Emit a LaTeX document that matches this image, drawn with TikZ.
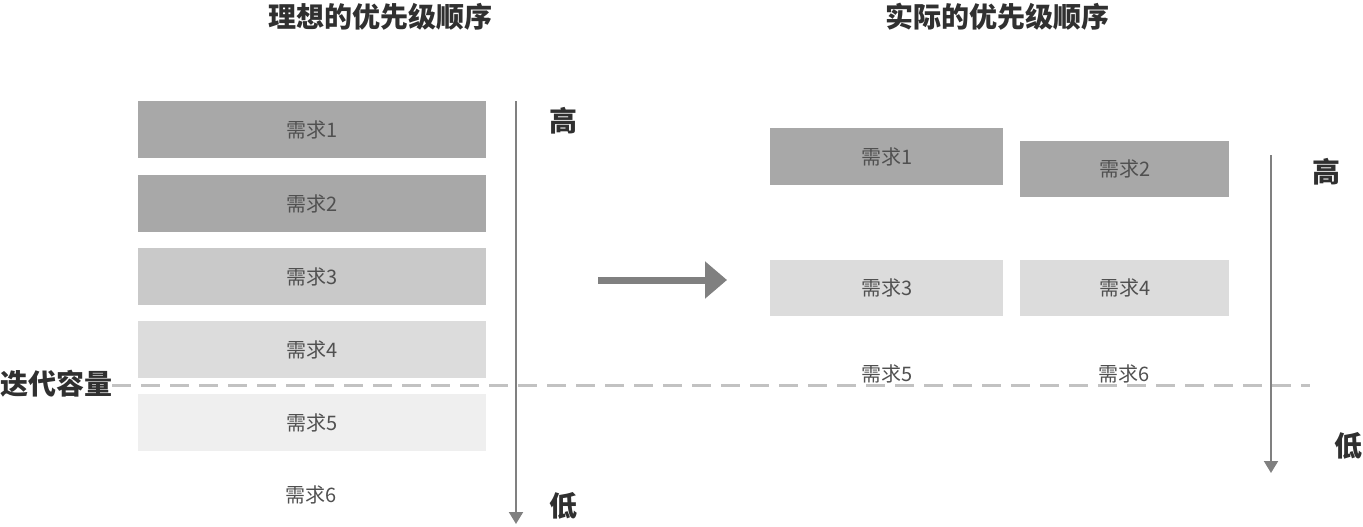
\documentclass[tikz,border=0pt]{standalone}
\usepackage{fontspec}
\setmainfont{Noto Sans CJK SC}
\usetikzlibrary{arrows.meta}
\definecolor{boxA}{HTML}{A8A8A8}
\definecolor{boxB}{HTML}{C9C9C9}
\definecolor{boxC}{HTML}{DCDCDC}
\definecolor{boxD}{HTML}{EFEFEF}
\definecolor{txt}{HTML}{505050}
\definecolor{dark}{HTML}{303030}
\definecolor{axis}{HTML}{808080}
\definecolor{dashc}{HTML}{C2C2C2}
\tikzset{
  req/.style={minimum height=57pt, inner sep=0pt, text=txt, font=\fontsize{20}{22}\selectfont, anchor=north west},
  reqtext/.style={text=txt, font=\fontsize{20}{22}\selectfont, inner sep=0pt},
  title/.style={text=dark, font=\fontsize{28}{30}\selectfont\bfseries, inner sep=0pt},
  lvl/.style={text=dark, font=\fontsize{28}{30}\selectfont\bfseries, inner sep=0pt},
  axisline/.style={draw=axis, line width=2pt, -{Triangle[length=12pt,width=14pt]}},
}
\begin{document}
\begin{tikzpicture}[x=1pt,y=-1pt]
\useasboundingbox (0,0) rectangle (1363,527);
% titles
\node[title] (t1) at (380,17) {理想的优先级顺序};
\node[title] (t2) at (997,17) {实际的优先级顺序};
% left boxes
\node[req, fill=boxA, minimum width=348pt] (l1) at (138,101) {需求1};
\node[req, fill=boxA, minimum width=348pt] (l2) at (138,175) {需求2};
\node[req, fill=boxB, minimum width=348pt] (l3) at (138,248) {需求3};
\node[req, fill=boxC, minimum width=348pt] (l4) at (138,321) {需求4};
\node[req, fill=boxD, minimum width=348pt] (l5) at (138,394) {需求5};
\node[reqtext] (l6) at (311,495) {需求6};
% right boxes
\node[req, fill=boxA, minimum width=233pt] (r1) at (770,128) {需求1};
\node[req, fill=boxA, minimum width=209pt, minimum height=56pt] (r2) at (1020,141) {需求2};
\node[req, fill=boxC, minimum width=233pt, minimum height=56pt] (r3) at (770,260) {需求3};
\node[req, fill=boxC, minimum width=209pt, minimum height=56pt] (r4) at (1020,260) {需求4};
\node[reqtext] (r5) at (887,374) {需求5};
\node[reqtext] (r6) at (1124,374) {需求6};
% capacity line
\node[lvl, anchor=west] (cap) at (0,384) {迭代容量};
\coordinate (capend) at (1310,385);
\draw[dashc, line width=3pt, dash pattern=on 19pt off 10pt] (cap.east |- capend) -- (capend);
% axes
\coordinate (la1) at (516,101);
\coordinate (la2) at (516,524);
\draw[axisline] (la1) -- (la2);
\node[lvl] (hi1) at (563,121) {高};
\node[lvl] (lo1) at (563,506) {低};
\coordinate (ra1) at (1271,155);
\coordinate (ra2) at (1271,473);
\draw[axisline] (ra1) -- (ra2);
\node[lvl] (hi2) at (1326,172) {高};
\node[lvl] (lo2) at (1348,446) {低};
% big arrow
\coordinate (ba1) at (598,280);
\coordinate (ba2) at (727,280);
\draw[draw=axis, line width=7pt, -{Triangle[length=22pt,width=36pt]}] (ba1) -- (ba2);
\end{tikzpicture}
\end{document}
